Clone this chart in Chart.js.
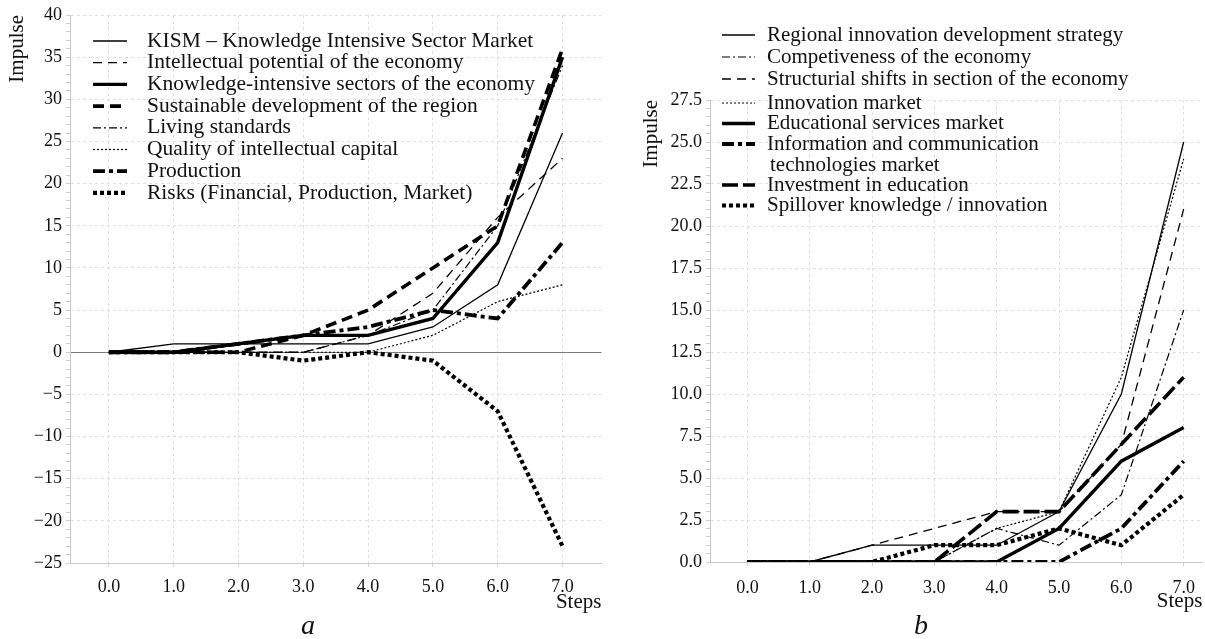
<!DOCTYPE html>
<html>
<head>
<meta charset="utf-8">
<script src="https://cdn.jsdelivr.net/npm/chart.js@4/dist/chart.umd.min.js"></script>
<style>
  html, body { margin: 0; padding: 0; background: #fff; }
  body { width: 1205px; height: 639px; overflow: hidden; position: relative; }
  .panel { position: absolute; top: 0; height: 639px; }
  #panelA { left: 0; width: 603px; }
  #panelB { left: 600px; width: 606px; }
  .caption { position: absolute; font: italic 28px "Liberation Serif", "Times New Roman", serif; color: #111; line-height: 1; }
</style>
</head>
<body>
<div class="panel" id="panelA"><canvas id="chartA" width="603" height="639"></canvas></div>
<div class="panel" id="panelB"><canvas id="chartB" width="606" height="639"></canvas></div>
<div class="caption" style="left:301px; top:611px;">a</div>
<div class="caption" style="left:914px; top:611px;">b</div>
<script>
// Simulation steps and the tick values shown on the step axis
const steps = [0, 1, 2, 3, 4, 5, 6, 7];
const stepTicks = [0, 1, 2, 3, 4, 5, 6, 7];

// Panel a: impulse responses
const kism = [0, 1, 1, 1, 1, 3, 8, 26];
const intellectualPotential = [0, 0, 0, 0, 2, 7, 16, 23];
const knowledgeSectors = [0, 0, 1, 2, 2, 4, 13, 35];
const sustainableDevelopment = [0, 0, 0, 2, 5, 10, 15, 36];
const livingStandards = [0, 0, 0, 0, 2, 5, 15, 34];
const intellectualCapital = [0, 0, 0, 0, 0, 2, 6, 8];
const production = [0, 0, 1, 2, 3, 5, 4, 13];
const risks = [0, 0, 0, -1, 0, -1, -7, -23];

// Panel b: impulse responses
const regionalStrategy = [0, 0, 1, 1, 1, 3, 10, 25];
const competitiveness = [0, 0, 0, 0, 2, 1, 4, 15];
const structuralShifts = [0, 0, 1, 2, 3, 3, 7, 21];
const innovationMarket = [0, 0, 0, 0, 2, 3, 11, 24];
const educationalServices = [0, 0, 0, 0, 0, 2, 6, 8];
const ictMarket = [0, 0, 0, 0, 0, 0, 2, 6];
const educationInvestment = [0, 0, 0, 0, 3, 3, 7, 11];
const spillover = [0, 0, 0, 1, 1, 2, 1, 4];

const SERIF = '"Liberation Serif", "Times New Roman", serif';
Chart.defaults.font.family = SERIF;
Chart.defaults.color = '#111';

// Line looks shared by both panels
const STYLE = {
  thinSolid:     { borderWidth: 1.3, borderDash: [] },
  thinDash:      { borderWidth: 1.3, borderDash: [9, 6] },
  thinDashDot:   { borderWidth: 1.2, borderDash: [8, 3, 2, 3] },
  thinDot:       { borderWidth: 1.2, borderDash: [2, 2] },
  thickSolid:    { borderWidth: 3.4, borderDash: [] },
  thickDash:     { borderWidth: 3.6, borderDash: [11, 6] },
  thickLongDash: { borderWidth: 3.6, borderDash: [16, 5] },
  thickDashDot:  { borderWidth: 3.8, borderDash: [12, 4, 4, 4] },
  thickDot:      { borderWidth: 4.2, borderDash: [4, 3] }
};

function series(label, values, style) {
  return Object.assign({
    label: label,
    data: steps.map((s, i) => ({ x: s, y: values[i] })),
    borderColor: '#000',
    backgroundColor: '#000',
    pointRadius: 0,
    tension: 0,
    fill: false,
    borderCapStyle: 'butt',
    borderJoinStyle: 'miter'
  }, style);
}

// Legend drawn inside the figure; each text line sits on its own row
const inlineLegend = {
  id: 'inlineLegend',
  afterDraw(chart, args, opts) {
    const ctx = chart.ctx;
    const rowY = r => (opts.rows ? opts.rows[r] : opts.top + r * opts.rowHeight);
    ctx.save();
    ctx.font = opts.font;
    ctx.fillStyle = '#111';
    ctx.textBaseline = 'middle';
    ctx.textAlign = 'left';
    let row = 0;
    chart.data.datasets.forEach(ds => {
      const y = rowY(row);
      ctx.save();
      ctx.strokeStyle = ds.borderColor;
      ctx.lineWidth = ds.borderWidth;
      ctx.lineCap = 'butt';
      ctx.setLineDash(ds.borderDash || []);
      ctx.beginPath();
      ctx.moveTo(opts.x0, y);
      ctx.lineTo(opts.x1, y);
      ctx.stroke();
      ctx.restore();
      const lines = ds.label.split('\n');
      lines.forEach((t, i) => {
        ctx.fillText(t, opts.textX + (i ? opts.indent : 0), rowY(row + i));
      });
      row += lines.length;
    });
    ctx.restore();
  }
};

const fmtSigned = v => (v < 0 ? '\u2212' + Math.abs(v) : String(v));

function axisX(max, padTick) {
  return {
    type: 'linear',
    min: -0.6,
    max: max,
    afterBuildTicks: s => { s.ticks = stepTicks.map(v => ({ value: v })); },
    afterFit: s => { s.height = 52; },
    ticks: { callback: v => Number(v).toFixed(1), font: { size: 18 }, color: '#111', padding: padTick, maxRotation: 0, autoSkip: false },
    grid: { color: '#e0e0e0', lineWidth: 1, tickLength: 4, tickColor: '#d0d0d0' },
    border: { color: '#c8c8c8', width: 1, dash: [3, 3] },
    title: { display: true, text: 'Steps', align: 'end', font: { size: 21 }, color: '#111', padding: 0 }
  };
}

function axisY(min, max, minorStep, majorStep, width, titlePad, labelFmt, zeroDark) {
  const isMajor = v => Math.abs(v / majorStep - Math.round(v / majorStep)) < 1e-6;
  return {
    type: 'linear',
    min: min,
    max: max,
    afterFit: s => { s.width = width; },
    ticks: { stepSize: minorStep, autoSkip: false, font: { size: 18 }, color: '#111', padding: 4,
             callback: v => (isMajor(v) ? labelFmt(v) : '') },
    grid: {
      lineWidth: 1,
      tickLength: 4,
      tickColor: '#d0d0d0',
      color: c => {
        if (!c.tick) return '#e0e0e0';
        const v = c.tick.value;
        if (zeroDark && Math.abs(v) < 1e-9) return '#7a7a7a';
        return isMajor(v) ? '#e0e0e0' : 'rgba(0,0,0,0)';
      }
    },
    border: { color: '#c8c8c8', width: 1,
              dash: c => (zeroDark && c.tick && Math.abs(c.tick.value) < 1e-9 ? [] : [3, 3]) },
    title: { display: true, text: 'Impulse', align: 'end', font: { size: 21 }, color: '#111', padding: { top: titlePad, bottom: 0 } }
  };
}

const common = {
  responsive: false,
  animation: false,
  events: [],
  devicePixelRatio: 1
};

new Chart(document.getElementById('chartA'), {
  type: 'line',
  data: {
    datasets: [
      series('KISM \u2013 Knowledge Intensive Sector Market', kism, STYLE.thinSolid),
      series('Intellectual potential of the economy', intellectualPotential, STYLE.thinDash),
      series('Knowledge-intensive sectors of the economy', knowledgeSectors, STYLE.thickSolid),
      series('Sustainable development of the region', sustainableDevelopment, STYLE.thickDash),
      series('Living standards', livingStandards, STYLE.thinDashDot),
      series('Quality of intellectual capital', intellectualCapital, STYLE.thinDot),
      series('Production', production, STYLE.thickDashDot),
      series('Risks (Financial, Production, Market)', risks, STYLE.thickDot)
    ]
  },
  options: Object.assign({}, common, {
    layout: { padding: { top: 15, left: 0, right: 1.6, bottom: 24 } },
    scales: {
      x: axisX(7.6, 9),
      y: axisY(-25, 40, 1, 5, 70, 5, fmtSigned, true)
    },
    plugins: {
      legend: { display: false },
      tooltip: { enabled: false },
      inlineLegend: { x0: 93, x1: 127, textX: 147, top: 41, rowHeight: 21.7, indent: 2, font: '21.5px ' + SERIF }
    }
  }),
  plugins: [inlineLegend]
});

new Chart(document.getElementById('chartB'), {
  type: 'line',
  data: {
    datasets: [
      series('Regional innovation development strategy', regionalStrategy, STYLE.thinSolid),
      series('Competiveness of the economy', competitiveness, STYLE.thinDashDot),
      series('Structurial shifts in section of the economy', structuralShifts, STYLE.thinDash),
      series('Innovation market', innovationMarket, STYLE.thinDot),
      series('Educational services market', educationalServices, STYLE.thickSolid),
      series('Information and communication\ntechnologies market', ictMarket, STYLE.thickDashDot),
      series('Investment in education', educationInvestment, STYLE.thickLongDash),
      series('Spillover knowledge / innovation', spillover, STYLE.thickDot)
    ]
  },
  options: Object.assign({}, common, {
    layout: { padding: { top: 100, left: 0, right: 2.2, bottom: 25 } },
    scales: {
      x: axisX(7.3, 11),
      y: axisY(0, 27.5, 0.5, 2.5, 110, 39, v => Number(v).toFixed(1), false)
    },
    plugins: {
      legend: { display: false },
      tooltip: { enabled: false },
      inlineLegend: { x0: 122, x1: 155, textX: 167, rows: [35, 57, 79, 103, 123.5, 144, 165, 185, 205.5], indent: 3, font: '21px ' + SERIF }
    }
  }),
  plugins: [inlineLegend]
});
</script>
</body>
</html>
